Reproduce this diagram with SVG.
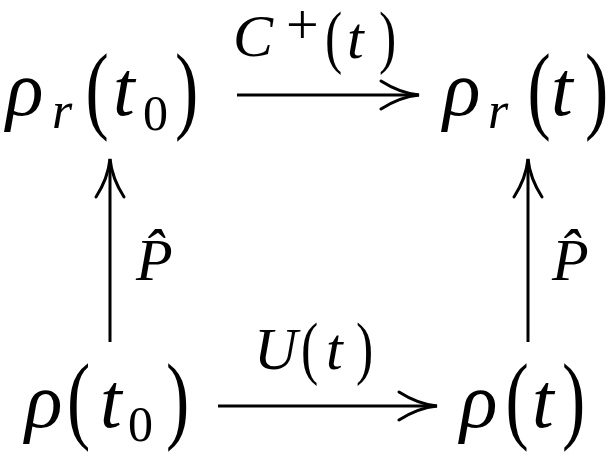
<svg xmlns="http://www.w3.org/2000/svg" width="613" height="456" viewBox="0 0 613 456">
<style>
text{font-family:"Liberation Serif","Times New Roman",serif;fill:#000}
.m{font-size:78px;font-style:italic}
.p{font-size:97px;font-style:normal}
.s{font-size:52px;font-style:italic}
.s0{font-size:50px;font-style:normal}
.l{font-size:60px;font-style:italic}
.lp{font-size:69px;font-style:normal}
.sup{font-size:58px;font-style:normal}
.edge{stroke:#000;stroke-width:3;fill:none}
</style>
<defs>
<marker id="ah" viewBox="-42 -16 46 32" markerWidth="46" markerHeight="32" refX="0" refY="0" orient="auto" markerUnits="userSpaceOnUse">
<path d="M-38,-14 C-24,-5 -10,-1 0,0 C-10,1 -24,5 -38,14" fill="none" stroke="#000" stroke-width="3" stroke-linecap="round"/>
</marker>
</defs>
<g id="edges">
<line class="edge" x1="237" y1="95" x2="419" y2="95" marker-end="url(#ah)"/>
<line class="edge" x1="218" y1="406" x2="437" y2="406" marker-end="url(#ah)"/>
<line class="edge" x1="110" y1="342" x2="110" y2="159" marker-end="url(#ah)"/>
<line class="edge" x1="528" y1="342" x2="528" y2="159" marker-end="url(#ah)"/>
<g id="label-C">
<text><tspan class="l" x="233" y="56">C</tspan><tspan class="sup" x="286" y="44">+</tspan></text>
<text class="lp" transform="translate(325,60) scale(0.75,1)">(</text>
<text class="l" x="347" y="58">t</text>
<text class="lp" transform="translate(379,60) scale(0.75,1)">)</text>
</g>
<g id="label-U">
<text class="l" x="254" y="369">U</text>
<text class="lp" transform="translate(301,371) scale(0.75,1)">(</text>
<text class="l" x="326" y="369">t</text>
<text class="lp" transform="translate(356,371) scale(0.75,1)">)</text>
</g>
<text id="label-P-left" class="l" x="136" y="280">P̂</text>
<text id="label-P-right" class="l" x="552" y="280">P̂</text>
</g>
<g id="node-rho-r-t0">
<text><tspan class="m" x="6" y="115">ρ</tspan><tspan class="s" x="52" y="128">r</tspan></text>
<text class="p" transform="translate(85.5,121) scale(0.72,1)">(</text>
<text><tspan class="m" x="113" y="115">t</tspan><tspan class="s0" x="143" y="130">0</tspan></text>
<text class="p" transform="translate(175,121) scale(0.72,1)">)</text>
</g>
<g id="node-rho-r-t">
<text><tspan class="m" x="443" y="115">ρ</tspan><tspan class="s" x="488" y="128">r</tspan></text>
<text class="p" transform="translate(527.5,121) scale(0.72,1)">(</text>
<text class="m" x="551" y="115">t</text>
<text class="p" transform="translate(585,121) scale(0.72,1)">)</text>
</g>
<g id="node-rho-t0">
<text class="m" x="25" y="427">ρ</text>
<text class="p" transform="translate(67,431) scale(0.72,1)">(</text>
<text><tspan class="m" x="100" y="427">t</tspan><tspan class="s0" x="128" y="441">0</tspan></text>
<text class="p" transform="translate(166,431) scale(0.72,1)">)</text>
</g>
<g id="node-rho-t">
<text class="m" x="460" y="427">ρ</text>
<text class="p" transform="translate(505.5,431) scale(0.72,1)">(</text>
<text class="m" x="532" y="427">t</text>
<text class="p" transform="translate(562,431) scale(0.72,1)">)</text>
</g>
</svg>
